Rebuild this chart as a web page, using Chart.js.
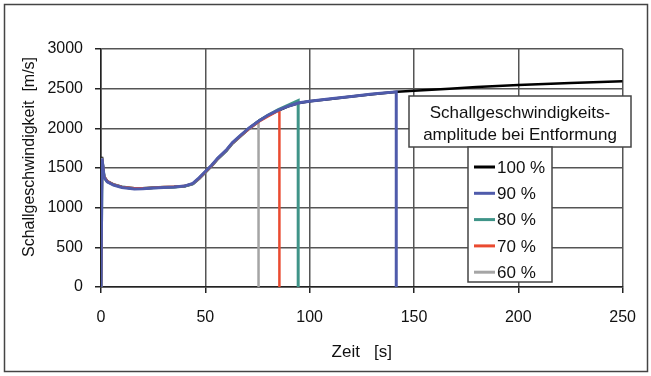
<!DOCTYPE html>
<html>
<head>
<meta charset="utf-8">
<script src="https://cdn.jsdelivr.net/npm/chart.js@4.4.1/dist/chart.umd.min.js"></script>
<style>
  body { margin: 0; background: #fff; }
  #chart { display: block; }
</style>
</head>
<body>
<canvas id="chart" width="651" height="376"></canvas>
<script>
// Werte (Zeit in s, Schallgeschwindigkeit in m/s)
const zeit100 = [0, 0.5, 1.5, 3, 6, 10, 16, 20, 25, 30, 35, 40, 44, 47, 50, 53, 56, 60, 63, 67, 71, 76, 80, 85, 90, 95, 100, 110, 120, 130, 142, 150, 167, 180, 200, 225, 250];
const wert100 = [0, 1640, 1390, 1330, 1290, 1260, 1240, 1240, 1250, 1255, 1260, 1270, 1300, 1370, 1450, 1530, 1620, 1720, 1815, 1910, 2000, 2100, 2160, 2225, 2280, 2320, 2340, 2370, 2400, 2430, 2460, 2475, 2500, 2520, 2545, 2570, 2595];

const zeit90 = [0, 0.5, 1.5, 3, 6, 10, 16, 20, 25, 30, 35, 40, 44, 47, 50, 53, 56, 60, 63, 67, 71, 76, 80, 85, 90, 95, 100, 110, 120, 130, 141.5, 141.5];
const wert90 = [0, 1620, 1380, 1325, 1285, 1255, 1235, 1238, 1248, 1255, 1262, 1272, 1305, 1375, 1455, 1535, 1625, 1725, 1820, 1915, 2005, 2100, 2165, 2230, 2282, 2322, 2342, 2372, 2402, 2432, 2460, 0];

const zeit80 = [0, 0.5, 1.5, 3, 6, 10, 16, 20, 25, 30, 35, 40, 44, 47, 50, 53, 56, 60, 63, 67, 71, 76, 80, 85, 90, 94.5, 94.5];
const wert80 = [0, 1600, 1385, 1330, 1290, 1262, 1242, 1242, 1250, 1258, 1262, 1270, 1300, 1365, 1445, 1525, 1615, 1715, 1810, 1905, 1998, 2098, 2165, 2235, 2295, 2350, 0];

const zeit70 = [0, 0.5, 1.5, 3, 6, 10, 16, 20, 25, 30, 35, 40, 44, 47, 50, 53, 56, 60, 63, 67, 71, 76, 80, 85.5, 85.5];
const wert70 = [0, 1610, 1390, 1335, 1292, 1262, 1245, 1245, 1252, 1260, 1265, 1272, 1302, 1368, 1448, 1528, 1618, 1718, 1812, 1905, 1995, 2090, 2150, 2230, 0];

const zeit60 = [0, 0.5, 1.5, 3, 6, 10, 16, 20, 25, 30, 35, 40, 44, 47, 50, 53, 56, 60, 63, 67, 71, 75.5, 75.5];
const wert60 = [0, 1630, 1395, 1335, 1295, 1265, 1245, 1245, 1250, 1258, 1262, 1270, 1300, 1368, 1450, 1530, 1620, 1720, 1812, 1905, 1995, 2085, 0];

const serienNamen = ['100 %', '90 %', '80 %', '70 %', '60 %'];
const serienFarben = ['#000000', '#4f5bab', '#3f9488', '#ea4a30', '#a5a5a5'];
const xTicks = [0, 50, 100, 150, 200, 250];
const yTicks = [0, 500, 1000, 1500, 2000, 2500, 3000];

const legendenTitel = ['Schallgeschwindigkeits-', 'amplitude bei Entformung'];
const yTitel = 'Schallgeschwindigkeit  [m/s]';
const xTitel = 'Zeit   [s]';

function punkte(zeiten, werte) {
    return zeiten.map((t, i) => ({ x: t, y: werte[i] }));
}

const alleZeiten = [zeit100, zeit90, zeit80, zeit70, zeit60];
const alleWerte = [wert100, wert90, wert80, wert70, wert60];
const linienBreiten = [2.5, 3, 3, 2.5, 2.5];
const reihenfolge = [5, 1, 3, 2, 4];

const datasets = serienNamen.map((name, i) => ({
    label: name,
    data: punkte(alleZeiten[i], alleWerte[i]),
    borderColor: serienFarben[i],
    backgroundColor: serienFarben[i],
    borderWidth: linienBreiten[i],
    pointRadius: 0,
    tension: 0,
    fill: false,
    order: reihenfolge[i]
}));

const FONT = '"Liberation Sans", Arial, sans-serif';

// Rahmen, Achsentitel und Legende selbst zeichnen
const extras = {
    id: 'extras',
    beforeDraw(chart) {
        const ctx = chart.ctx;
        ctx.save();
        ctx.fillStyle = '#ffffff';
        ctx.fillRect(0, 0, chart.width, chart.height);
        ctx.restore();
    },
    afterDraw(chart) {
        const ctx = chart.ctx;
        const area = chart.chartArea;
        ctx.save();

        // aeusserer Rahmen
        ctx.strokeStyle = '#444';
        ctx.lineWidth = 1.5;
        ctx.strokeRect(4.5, 4.5, 643, 367);

        // Achsentitel
        ctx.fillStyle = '#111';
        ctx.font = '16px ' + FONT;
        ctx.textAlign = 'center';
        ctx.textBaseline = 'middle';
        ctx.save();
        ctx.translate(30, 157);
        ctx.rotate(-Math.PI / 2);
        ctx.fillText(yTitel, 0, 0);
        ctx.restore();
        ctx.font = '17px ' + FONT;
        ctx.fillText(xTitel, (area.left + area.right) / 2, 352);

        // Legendentitel
        ctx.fillStyle = '#fff';
        ctx.fillRect(409, 96, 222, 51);
        ctx.strokeStyle = '#444';
        ctx.lineWidth = 1.5;
        ctx.strokeRect(409, 96, 222, 51);
        ctx.fillStyle = '#111';
        ctx.font = '17px ' + FONT;
        ctx.fillText(legendenTitel[0], 520, 113);
        ctx.fillText(legendenTitel[1], 520, 135);

        // Legende
        ctx.fillStyle = '#fff';
        ctx.fillRect(468, 147, 84, 135);
        ctx.strokeRect(468, 147, 84, 135);
        ctx.textAlign = 'left';
        chart.data.datasets.forEach((ds, i) => {
            const y = 167 + i * 26.3;
            ctx.strokeStyle = ds.borderColor;
            ctx.lineWidth = 3;
            ctx.beginPath();
            ctx.moveTo(474, y);
            ctx.lineTo(495, y);
            ctx.stroke();
            ctx.fillStyle = '#111';
            ctx.fillText(ds.label, 497, y + 1);
        });
        ctx.restore();
    }
};

new Chart(document.getElementById('chart'), {
    type: 'line',
    data: { datasets: datasets },
    options: {
        responsive: false,
        animation: false,
        devicePixelRatio: 1,
        layout: { padding: { top: 49, right: 28, left: 0, bottom: 0 } },
        plugins: {
            legend: { display: false },
            tooltip: { enabled: false }
        },
        scales: {
            x: {
                type: 'linear',
                min: 0,
                max: 250,
                afterBuildTicks: (scale) => { scale.ticks = xTicks.map(v => ({ value: v })); },
                afterFit: (scale) => { scale.height = 89; },
                grid: { color: '#555', lineWidth: 1.5, tickLength: 6, tickColor: '#222' },
                border: { color: '#222', width: 1.5 },
                ticks: { color: '#111', font: { size: 16, family: FONT }, padding: 15, maxRotation: 0,
                         callback: (v) => String(v) }
            },
            y: {
                min: 0,
                max: 3000,
                afterBuildTicks: (scale) => { scale.ticks = yTicks.map(v => ({ value: v })); },
                afterFit: (scale) => { scale.width = 101; },
                grid: { color: '#555', lineWidth: 1.5, tickLength: 6, tickColor: '#222' },
                border: { color: '#222', width: 1.5 },
                ticks: { color: '#111', font: { size: 16, family: FONT }, padding: 12,
                         callback: (v) => String(v) }
            }
        }
    },
    plugins: [extras]
});
</script>
</body>
</html>
